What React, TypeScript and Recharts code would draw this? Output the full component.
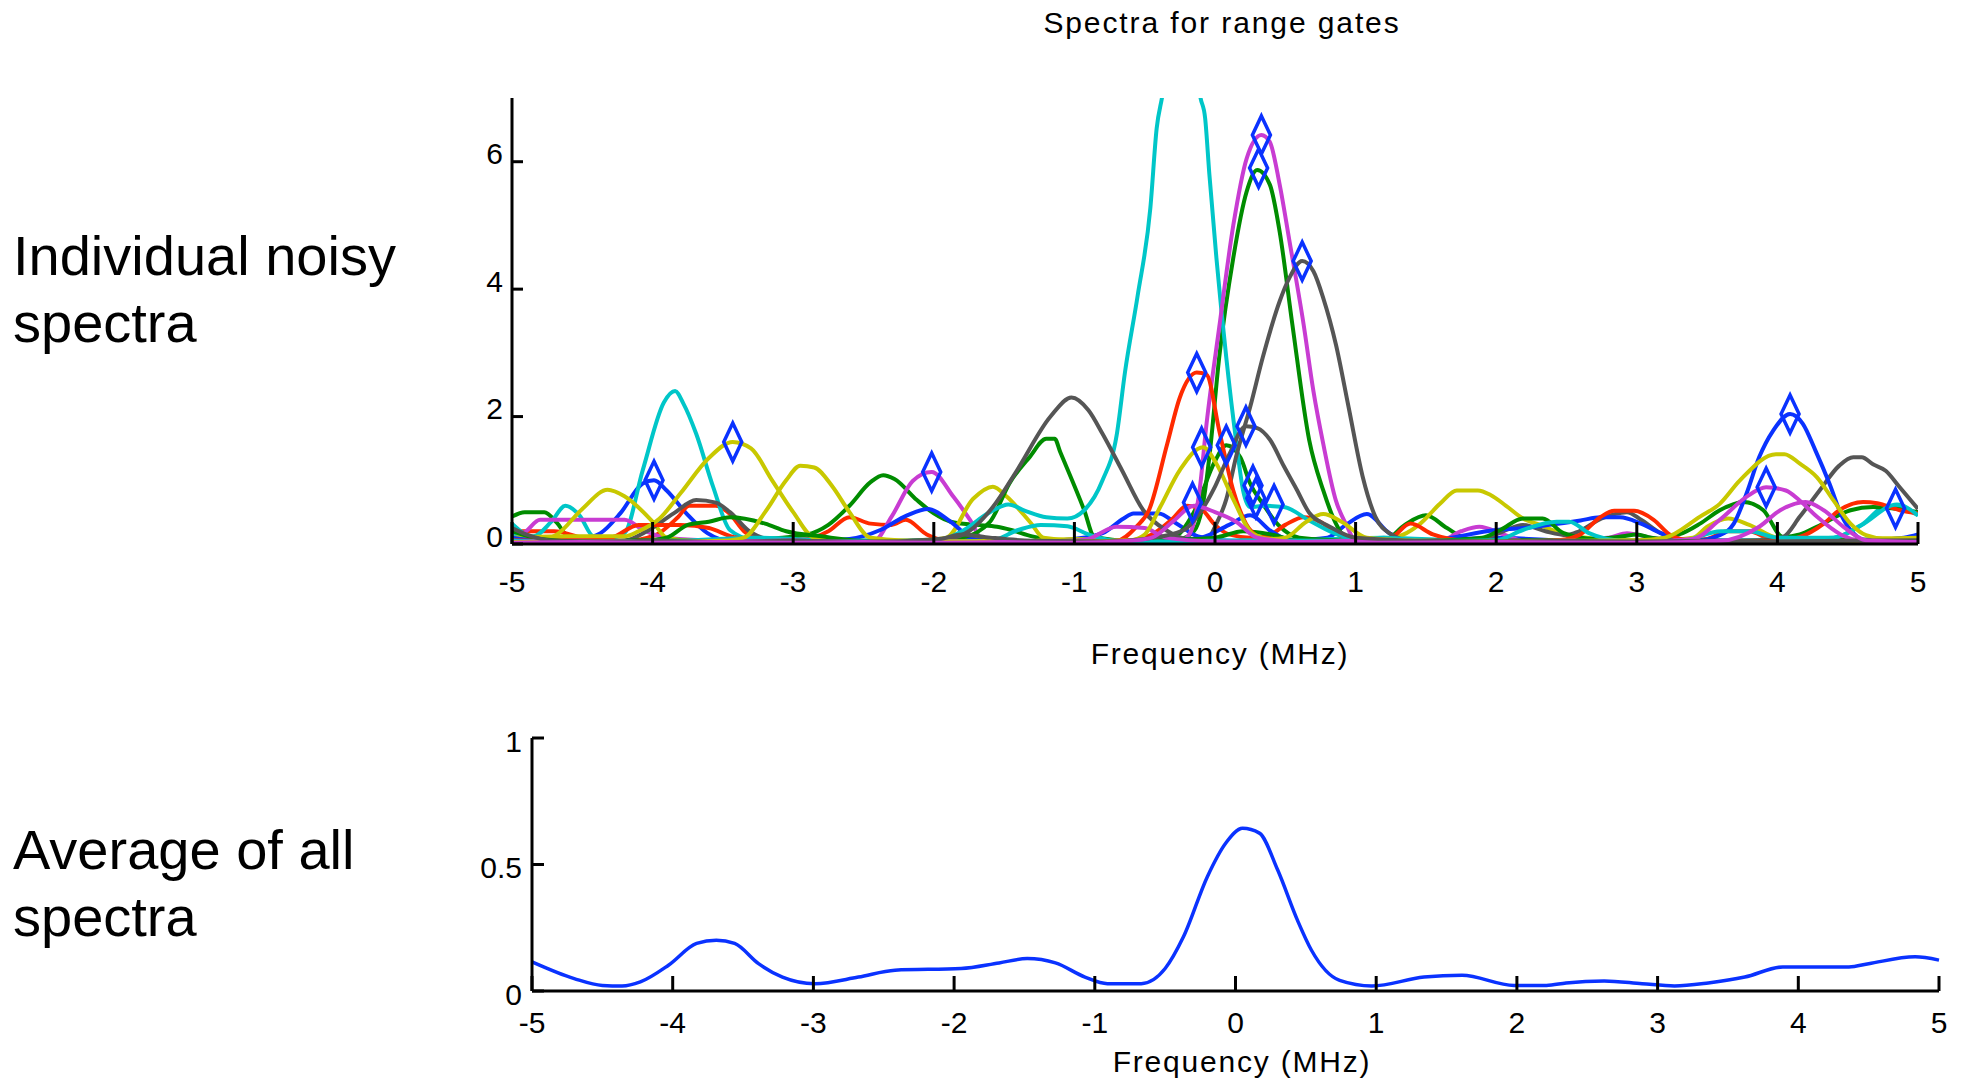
import React from 'react';
import { ComposedChart, Line, Scatter, XAxis, YAxis } from 'recharts';

type P = [number, number];

// ---------- axes / labels ----------
const freqTicks = [-5, -4, -3, -2, -1, 0, 1, 2, 3, 4, 5];
const gatePowerTicks = [0, 2, 4, 6];
const avgPowerTicks = [0, 0.5, 1];
const titleText = 'Spectra for range gates';
const xLabelText = 'Frequency (MHz)';
const topSideText = ['Individual noisy', 'spectra'];
const bottomSideText = ['Average of all', 'spectra'];

// ---------- individual range-gate spectra: [frequency MHz, power] ----------
const gateB1: P[] = [[-5,0.08],[-4.8,0.04],[-4.6,0.05],[-4.45,0.1],[-4.37,0.17],[-4.23,0.48],[-4.07,0.95],[-3.99,1.0],[-3.9,0.84],[-3.76,0.48],[-3.61,0.17],[-3.45,0.05],[-3.0,0.04],[-2.5,0.03],[-2.0,0.05],[-1.5,0.03],[-1.0,0.05],[-0.5,0.03],[0.0,0.02],[0.5,0.05],[0.8,0.1],[0.93,0.3],[1.08,0.47],[1.24,0.17],[1.4,0.05],[2.0,0.1],[2.5,0.05],[3.0,0.04],[3.5,0.05],[4.0,0.03],[4.5,0.05],[5,0.1]];
const gateG1: P[] = [[-5,0.43],[-4.91,0.5],[-4.77,0.5],[-4.68,0.33],[-4.6,0.12],[-4.4,0.05],[-4.2,0.03],[-3.6,0.05],[-3.2,0.08],[-2.9,0.15],[-2.75,0.3],[-2.6,0.6],[-2.45,0.97],[-2.36,1.08],[-2.28,1.02],[-2.12,0.69],[-2.0,0.48],[-1.88,0.35],[-1.7,0.3],[-1.55,0.27],[-1.45,0.22],[-1.3,0.12],[-1.1,0.05],[-0.6,0.03],[-0.25,0.08],[-0.15,0.2],[-0.08,0.7],[-0.04,1.37],[0.03,2.93],[0.13,4.49],[0.225,5.53],[0.3,5.87],[0.39,5.64],[0.46,4.9],[0.55,3.45],[0.67,1.63],[0.77,0.84],[0.86,0.32],[0.95,0.06],[1.2,0.05],[1.35,0.3],[1.5,0.45],[1.65,0.25],[1.8,0.08],[2.5,0.05],[3.2,0.04],[4.0,0.05],[5,0.08]];
const gateR1: P[] = [[-5,0.2],[-4.7,0.2],[-4.5,0.1],[-4.2,0.05],[-3.98,0.14],[-3.82,0.42],[-3.74,0.6],[-3.55,0.6],[-3.45,0.47],[-3.35,0.2],[-3.2,0.05],[-2.9,0.08],[-2.75,0.2],[-2.6,0.42],[-2.45,0.32],[-2.3,0.3],[-2.2,0.38],[-2.05,0.15],[-1.9,0.05],[-1.2,0.03],[-0.8,0.04],[-0.4,0.02],[0.5,0.03],[1.0,0.02],[2.0,0.04],[3.0,0.03],[3.5,0.08],[3.64,0.2],[3.8,0.2],[3.95,0.08],[4.5,0.03],[5,0.05]];
const gateC1: P[] = [[-5,0.32],[-4.85,0.12],[-4.72,0.35],[-4.62,0.6],[-4.52,0.45],[-4.42,0.12],[-4.3,0.1],[-4.2,0.17],[-4.07,1.16],[-3.92,2.22],[-3.84,2.4],[-3.78,2.2],[-3.69,1.73],[-3.57,0.9],[-3.45,0.22],[-3.3,0.08],[-2.8,0.05],[-2.2,0.04],[-1.5,0.05],[-1.0,0.03],[-0.5,0.05],[0.0,0.04],[0.6,0.06],[1.2,0.1],[1.8,0.05],[2.5,0.04],[3.2,0.05],[3.8,0.06],[4.4,0.1],[4.6,0.3],[4.78,0.6],[4.9,0.55],[5,0.45]];
const gateM1: P[] = [[-5,0.05],[-4.9,0.2],[-4.8,0.38],[-4.5,0.38],[-4.2,0.38],[-4.05,0.2],[-3.9,0.1],[-3.5,0.05],[-3.0,0.04],[-2.6,0.05],[-2.43,0.04],[-2.3,0.43],[-2.15,0.99],[-2.015,1.13],[-1.86,0.74],[-1.74,0.37],[-1.65,0.06],[-1.2,0.03],[-0.6,0.02],[0.2,0.03],[1.0,0.04],[1.6,0.05],[1.75,0.2],[1.88,0.27],[2.05,0.15],[2.2,0.05],[2.8,0.1],[2.93,0.17],[3.1,0.1],[3.5,0.03],[4.5,0.04],[5,0.03]];
const gateY1: P[] = [[-5,0.05],[-4.8,0.06],[-4.68,0.15],[-4.5,0.55],[-4.32,0.85],[-4.2,0.75],[-4.0,0.35],[-3.9,0.1],[-3.7,0.05],[-3.0,0.04],[-2.4,0.05],[-2.1,0.06],[-1.91,0.1],[-1.72,0.71],[-1.58,0.9],[-1.48,0.74],[-1.31,0.33],[-1.22,0.1],[-0.9,0.05],[-0.3,0.04],[0.5,0.05],[1.0,0.06],[1.3,0.12],[1.45,0.3],[1.6,0.63],[1.72,0.84],[1.87,0.84],[1.96,0.77],[2.07,0.6],[2.19,0.4],[2.31,0.3],[2.5,0.14],[2.64,0.1],[3.0,0.05],[3.5,0.04],[4.5,0.05],[5,0.04]];
const gateK1: P[] = [[-5,0.12],[-4.8,0.05],[-4.5,0.02],[-4.2,0.05],[-4.04,0.2],[-3.85,0.48],[-3.69,0.69],[-3.55,0.65],[-3.45,0.5],[-3.3,0.18],[-3.1,0.05],[-2.5,0.04],[-2.1,0.06],[-1.8,0.1],[-1.6,0.05],[-1.0,0.03],[0.0,0.04],[1.0,0.05],[1.5,0.04],[1.9,0.08],[2.05,0.2],[2.19,0.3],[2.35,0.2],[2.5,0.14],[2.59,0.2],[2.75,0.4],[2.93,0.5],[3.03,0.38],[3.17,0.17],[3.4,0.05],[4.0,0.04],[4.5,0.05],[5,0.06]];
const gateB2: P[] = [[-5,0.03],[-4.5,0.05],[-4.0,0.03],[-3.5,0.06],[-3.0,0.04],[-2.6,0.08],[-2.38,0.22],[-2.19,0.45],[-2.04,0.55],[-1.88,0.35],[-1.7,0.06],[-1.3,0.04],[-1.0,0.08],[-0.8,0.17],[-0.65,0.4],[-0.58,0.48],[-0.4,0.48],[-0.28,0.33],[-0.12,0.12],[0.1,0.05],[0.5,0.03],[1.0,0.04],[1.5,0.05],[2.0,0.22],[2.2,0.25],[2.38,0.3],[2.6,0.37],[2.74,0.42],[2.88,0.42],[3.03,0.32],[3.17,0.17],[3.4,0.05],[4.0,0.04],[4.6,0.05],[5,0.08]];
const gateG2: P[] = [[-5,0.05],[-4.5,0.04],[-4.0,0.06],[-3.5,0.04],[-3.0,0.05],[-2.5,0.04],[-2.0,0.06],[-1.8,0.1],[-1.6,0.35],[-1.46,0.96],[-1.32,1.36],[-1.2,1.65],[-1.14,1.65],[-1.1,1.44],[-0.93,0.53],[-0.86,0.12],[-0.6,0.05],[-0.3,0.1],[-0.15,0.5],[0.0,1.3],[0.08,1.55],[0.18,1.36],[0.25,0.95],[0.34,0.63],[0.45,0.3],[0.6,0.1],[1.0,0.05],[1.5,0.04],[2.0,0.05],[2.6,0.06],[3.0,0.05],[3.3,0.15],[3.45,0.32],[3.59,0.53],[3.76,0.66],[3.9,0.53],[4.04,0.11],[4.16,0.15],[4.28,0.27],[4.52,0.53],[4.68,0.58],[4.85,0.55],[5,0.5]];
const gateR2: P[] = [[-5,0.1],[-4.6,0.08],[-4.3,0.1],[-4.1,0.3],[-3.8,0.3],[-3.6,0.25],[-3.4,0.1],[-3.0,0.05],[-2.5,0.04],[-2.0,0.03],[-1.5,0.05],[-1.0,0.04],[-0.6,0.06],[-0.45,0.15],[-0.3,0.4],[-0.2,0.6],[-0.1,0.55],[0.0,0.3],[0.1,0.15],[0.25,0.1],[0.37,0.12],[0.5,0.3],[0.63,0.42],[0.75,0.35],[0.86,0.17],[1.0,0.05],[1.25,0.1],[1.39,0.32],[1.55,0.15],[1.8,0.05],[2.5,0.04],[3.0,0.05],[3.5,0.04],[4.0,0.06],[4.5,0.04],[5,0.05]];
const gateC2: P[] = [[-5,0.15],[-4.7,0.05],[-4.3,0.04],[-3.8,0.05],[-3.3,0.1],[-3.0,0.08],[-2.5,0.05],[-2.0,0.05],[-1.8,0.2],[-1.6,0.5],[-1.47,0.62],[-1.35,0.52],[-1.2,0.42],[-1.05,0.4],[-0.93,0.53],[-0.8,1.0],[-0.7,1.7],[-0.64,2.7],[-0.55,3.9],[-0.46,5.27],[-0.415,6.52],[-0.37,7.1],[-0.3,8.5],[-0.22,8.9],[-0.15,8.2],[-0.11,7.1],[-0.07,6.68],[-0.04,5.8],[0.01,4.49],[0.08,2.93],[0.15,1.62],[0.2,0.84],[0.25,0.58],[0.35,0.6],[0.49,0.58],[0.67,0.37],[0.86,0.16],[1.0,0.08],[1.5,0.05],[2.0,0.04],[2.5,0.05],[3.0,0.04],[3.5,0.06],[4.0,0.05],[4.5,0.04],[5,0.1]];
const gateM2: P[] = [[-5,0.02],[-4.5,0.04],[-4.0,0.02],[-3.5,0.05],[-3.0,0.03],[-2.5,0.04],[-2.0,0.02],[-1.5,0.04],[-1.0,0.03],[-0.5,0.04],[-0.25,0.05],[-0.18,0.16],[-0.11,0.84],[-0.06,1.89],[0.03,3.4],[0.13,5.0],[0.225,6.05],[0.33,6.42],[0.39,6.31],[0.46,5.64],[0.53,4.75],[0.63,3.45],[0.7,2.4],[0.77,1.57],[0.86,0.68],[0.93,0.32],[1.0,0.06],[1.5,0.04],[2.0,0.03],[2.5,0.04],[3.0,0.03],[3.5,0.05],[4.0,0.03],[4.5,0.04],[5,0.03]];
const gateY2: P[] = [[-5,0.1],[-4.6,0.12],[-4.2,0.12],[-4.1,0.2],[-3.95,0.4],[-3.8,0.8],[-3.6,1.35],[-3.43,1.6],[-3.3,1.5],[-3.15,1.0],[-3.0,0.5],[-2.85,0.1],[-2.5,0.04],[-2.0,0.05],[-1.5,0.03],[-1.0,0.08],[-0.7,0.05],[0.0,0.04],[0.5,0.03],[1.0,0.04],[1.5,0.05],[2.0,0.04],[2.5,0.05],[3.0,0.04],[3.4,0.1],[3.5,0.27],[3.65,0.4],[3.8,0.3],[4.0,0.1],[4.5,0.05],[5,0.04]];
const gateK2: P[] = [[-5,0.05],[-4.5,0.04],[-4.0,0.03],[-3.5,0.04],[-3.0,0.05],[-2.5,0.04],[-2.1,0.05],[-1.9,0.08],[-1.75,0.2],[-1.58,0.58],[-1.41,1.15],[-1.17,2.0],[-1.02,2.3],[-0.9,2.1],[-0.8,1.73],[-0.66,1.15],[-0.51,0.53],[-0.35,0.22],[-0.2,0.08],[-0.05,0.1],[0.01,0.32],[0.08,0.7],[0.15,1.37],[0.25,2.15],[0.34,2.93],[0.46,3.81],[0.53,4.18],[0.62,4.44],[0.7,4.28],[0.77,3.86],[0.86,3.13],[0.95,2.15],[1.05,1.06],[1.14,0.43],[1.24,0.17],[1.4,0.05],[2.0,0.04],[2.5,0.05],[3.0,0.04],[3.5,0.05],[3.9,0.06],[4.04,0.11],[4.16,0.43],[4.3,0.84],[4.44,1.23],[4.54,1.36],[4.6,1.36],[4.68,1.25],[4.77,1.15],[4.87,0.89],[5,0.55]];
const gateB3: P[] = [[-5,0.1],[-4.8,0.05],[-4.5,0.03],[-4.0,0.04],[-3.5,0.03],[-3.0,0.05],[-2.5,0.03],[-2.0,0.04],[-1.5,0.03],[-1.0,0.05],[-0.5,0.03],[-0.1,0.1],[0.1,0.3],[0.25,0.45],[0.4,0.2],[0.55,0.05],[1.0,0.04],[1.5,0.03],[2.0,0.05],[2.5,0.04],[3.0,0.05],[3.4,0.05],[3.59,0.14],[3.69,0.32],[3.78,0.79],[3.87,1.36],[3.97,1.78],[4.09,2.04],[4.18,1.89],[4.27,1.47],[4.37,0.95],[4.46,0.43],[4.54,0.17],[4.63,0.06],[4.9,0.1],[5,0.15]];
const gateG3: P[] = [[-5,0.2],[-4.8,0.08],[-4.5,0.04],[-4.1,0.05],[-3.9,0.1],[-3.75,0.3],[-3.6,0.35],[-3.45,0.42],[-3.2,0.32],[-3.05,0.2],[-2.8,0.12],[-2.5,0.05],[-2.0,0.04],[-1.5,0.05],[-1.0,0.03],[-0.5,0.05],[0.0,0.1],[0.2,0.2],[0.4,0.15],[0.6,0.05],[1.0,0.04],[1.5,0.05],[1.9,0.1],[2.03,0.22],[2.19,0.4],[2.33,0.4],[2.48,0.17],[2.7,0.08],[2.9,0.12],[3.0,0.15],[3.1,0.1],[3.4,0.05],[4.0,0.04],[4.5,0.06],[5,0.08]];
const gateR3: P[] = [[-5,0.06],[-4.5,0.04],[-4.0,0.05],[-3.5,0.04],[-3.0,0.05],[-2.5,0.03],[-2.0,0.05],[-1.5,0.04],[-1.0,0.03],[-0.7,0.05],[-0.56,0.27],[-0.47,0.53],[-0.34,1.57],[-0.25,2.3],[-0.13,2.69],[-0.06,2.66],[0.03,1.78],[0.13,0.84],[0.22,0.32],[0.31,0.11],[0.4,0.05],[1.0,0.04],[1.5,0.05],[2.0,0.04],[2.4,0.05],[2.59,0.14],[2.74,0.42],[2.84,0.52],[2.98,0.52],[3.12,0.38],[3.24,0.14],[3.4,0.05],[3.8,0.04],[4.0,0.05],[4.16,0.11],[4.33,0.32],[4.44,0.53],[4.61,0.66],[4.71,0.64],[4.87,0.53],[5,0.48]];
const gateC3: P[] = [[-5,0.05],[-4.5,0.03],[-4.0,0.05],[-3.5,0.04],[-3.0,0.03],[-2.5,0.05],[-2.0,0.04],[-1.6,0.05],[-1.4,0.22],[-1.24,0.3],[-1.05,0.28],[-0.9,0.15],[-0.7,0.05],[-0.3,0.04],[0.2,0.06],[0.8,0.05],[1.2,0.1],[1.6,0.05],[2.0,0.06],[2.19,0.22],[2.43,0.35],[2.52,0.35],[2.66,0.17],[2.9,0.05],[3.3,0.04],[3.6,0.2],[3.8,0.2],[4.0,0.1],[4.4,0.1],[4.6,0.3],[4.85,0.62],[5,0.45]];
const gateM3: P[] = [[-5,0.03],[-4.5,0.05],[-4.0,0.03],[-3.5,0.04],[-3.0,0.05],[-2.5,0.03],[-2.0,0.04],[-1.5,0.03],[-1.0,0.05],[-0.9,0.08],[-0.7,0.27],[-0.5,0.25],[-0.35,0.1],[0.0,0.04],[0.5,0.03],[1.0,0.05],[1.5,0.04],[2.0,0.03],[2.5,0.05],[3.0,0.04],[3.4,0.08],[3.59,0.38],[3.78,0.74],[3.92,0.89],[4.06,0.84],[4.16,0.68],[4.28,0.43],[4.45,0.15],[4.6,0.05],[5,0.04]];
const gateY3: P[] = [[-5,0.03],[-4.5,0.04],[-4.0,0.03],[-3.5,0.05],[-3.35,0.1],[-3.2,0.5],[-3.05,1.0],[-2.95,1.23],[-2.85,1.2],[-2.72,0.9],[-2.6,0.5],[-2.45,0.1],[-2.0,0.04],[-1.5,0.05],[-1.0,0.04],[-0.6,0.06],[-0.5,0.15],[-0.39,0.58],[-0.25,1.16],[-0.085,1.52],[0.01,1.26],[0.13,0.7],[0.27,0.16],[0.4,0.08],[0.5,0.1],[0.65,0.35],[0.77,0.47],[0.9,0.35],[1.08,0.1],[1.5,0.05],[2.0,0.04],[2.5,0.05],[3.0,0.06],[3.2,0.1],[3.45,0.43],[3.59,0.63],[3.73,0.99],[3.99,1.41],[4.05,1.41],[4.16,1.26],[4.28,1.05],[4.4,0.68],[4.52,0.32],[4.63,0.14],[4.75,0.09],[5,0.1]];
const gateK3: P[] = [[-5,0.25],[-4.9,0.15],[-4.7,0.05],[-4.3,0.04],[-4.0,0.05],[-3.5,0.03],[-3.0,0.05],[-2.5,0.04],[-2.0,0.06],[-1.8,0.15],[-1.6,0.1],[-1.3,0.05],[-0.8,0.04],[-0.5,0.08],[-0.22,0.22],[-0.11,0.48],[0.0,0.9],[0.1,1.4],[0.22,1.85],[0.3,1.82],[0.39,1.64],[0.49,1.22],[0.58,0.86],[0.67,0.49],[0.81,0.28],[1.0,0.1],[1.5,0.05],[2.0,0.04],[2.5,0.05],[3.0,0.04],[3.5,0.05],[4.0,0.04],[4.5,0.05],[5,0.06]];
const gateM4: P[] = [[-5,0.02],[-4.5,0.03],[-4.0,0.02],[-3.5,0.03],[-3.0,0.02],[-2.5,0.03],[-2.0,0.02],[-1.5,0.03],[-1.0,0.02],[-0.6,0.05],[-0.45,0.1],[-0.3,0.35],[-0.15,0.6],[0.0,0.5],[0.15,0.35],[0.3,0.1],[0.6,0.03],[1.0,0.02],[2.0,0.03],[3.0,0.02],[3.6,0.05],[3.87,0.27],[4.02,0.53],[4.2,0.66],[4.33,0.53],[4.47,0.27],[4.63,0.06],[5,0.03]];

// peak markers (diamonds)
const peakMarks: P[] = [[-3.99,1.0],[-3.43,1.6],[-2.015,1.13],[-0.13,2.69],[-0.095,1.52],[0.08,1.55],[0.22,1.85],[0.33,6.42],[0.31,5.9],[0.62,4.44],[-0.16,0.65],[0.27,0.92],[0.29,0.72],[0.42,0.62],[3.92,0.89],[4.09,2.04],[4.84,0.56]];

// ---------- average of all spectra ----------
const avgSpectrum: P[] = [[-5,0.115],[-4.7,0.049],[-4.5,0.022],[-4.36,0.02],[-4.23,0.036],[-4.03,0.102],[-3.83,0.188],[-3.69,0.201],[-3.56,0.188],[-3.39,0.108],[-3.22,0.055],[-2.99,0.029],[-2.68,0.055],[-2.42,0.082],[-1.95,0.089],[-1.68,0.111],[-1.48,0.128],[-1.28,0.111],[-1.07,0.055],[-0.91,0.029],[-0.67,0.029],[-0.5,0.089],[-0.37,0.214],[-0.2,0.452],[-0.07,0.584],[0.05,0.643],[0.17,0.624],[0.3,0.478],[0.44,0.28],[0.54,0.161],[0.74,0.042],[0.97,0.02],[1.34,0.055],[1.61,0.062],[1.98,0.022],[2.21,0.022],[2.35,0.032],[2.62,0.04],[2.89,0.029],[3.12,0.02],[3.36,0.032],[3.62,0.055],[3.89,0.095],[4.36,0.095],[4.5,0.108],[4.83,0.135],[5,0.122]];

// ---------- styling ----------
const FONT = '"Liberation Sans", Arial, Helvetica, sans-serif';
const BLUE = '#0A32FF';
const GREEN = '#008C00';
const RED = '#FF2A00';
const CYAN = '#00C6C8';
const MAGENTA = '#C83CD2';
const YELLOW = '#C8C800';
const GRAY = '#555555';

const gates: { name: string; color: string; pts: P[] }[] = [
  { name: 'g1', color: BLUE, pts: gateB1 },
  { name: 'g2', color: GREEN, pts: gateG1 },
  { name: 'g3', color: RED, pts: gateR1 },
  { name: 'g4', color: CYAN, pts: gateC1 },
  { name: 'g5', color: MAGENTA, pts: gateM1 },
  { name: 'g6', color: YELLOW, pts: gateY1 },
  { name: 'g7', color: GRAY, pts: gateK1 },
  { name: 'g8', color: BLUE, pts: gateB2 },
  { name: 'g9', color: GREEN, pts: gateG2 },
  { name: 'g10', color: RED, pts: gateR2 },
  { name: 'g11', color: CYAN, pts: gateC2 },
  { name: 'g12', color: MAGENTA, pts: gateM2 },
  { name: 'g13', color: YELLOW, pts: gateY2 },
  { name: 'g14', color: GRAY, pts: gateK2 },
  { name: 'g15', color: BLUE, pts: gateB3 },
  { name: 'g16', color: GREEN, pts: gateG3 },
  { name: 'g17', color: RED, pts: gateR3 },
  { name: 'g18', color: CYAN, pts: gateC3 },
  { name: 'g19', color: MAGENTA, pts: gateM3 },
  { name: 'g20', color: YELLOW, pts: gateY3 },
  { name: 'g21', color: GRAY, pts: gateK3 },
  { name: 'g22', color: MAGENTA, pts: gateM4 },
];

const toRows = (pts: P[]) => pts.map(([f, v]) => ({ f, v }));

const Diamond = (props: any) => {
  const { cx, cy } = props;
  if (cx == null || cy == null) return null;
  return (
    <path
      d={`M${cx},${cy - 19}L${cx + 9},${cy}L${cx},${cy + 19}L${cx - 9},${cy}Z`}
      fill="none"
      stroke={BLUE}
      strokeWidth={3.5}
      strokeLinejoin="miter"
    />
  );
};

const TICK_FONT = 30;
const tickStyle = { fontSize: TICK_FONT, fill: '#000', fontFamily: FONT };
const axisStroke = { stroke: '#000', strokeWidth: 3 };

const makeYTick = (offset: number) => (props: any) => {
  const { x, y, payload } = props;
  return (
    <text x={x} y={y + offset} dy="0.355em" textAnchor="end" fontSize={TICK_FONT} fontFamily={FONT} fill="#000">
      {String(payload.value)}
    </text>
  );
};
const TopYTick = makeYTick(-8);
const BottomYTick = makeYTick(3);

export default function App() {
  return (
    <div style={{ position: 'absolute', left: 0, top: 0, width: 1967, height: 1080, background: '#fff', overflow: 'hidden' }}>
      <div style={{ position: 'absolute', left: 0, top: 0 }}>
        <ComposedChart width={1967} height={620} margin={{ top: 98, right: 49, bottom: 0, left: 0 }}>
          <XAxis
            type="number"
            dataKey="f"
            domain={[-5, 5]}
            ticks={freqTicks}
            interval={0}
            allowDataOverflow
            height={76}
            tickSize={-22}
            tickMargin={49}
            axisLine={axisStroke}
            tickLine={axisStroke}
            tick={tickStyle}
          />
          <YAxis
            type="number"
            domain={[0, 7]}
            ticks={gatePowerTicks}
            interval={0}
            allowDataOverflow
            width={512}
            tickSize={-11}
            tickMargin={20}
            axisLine={axisStroke}
            tickLine={axisStroke}
            tick={TopYTick}
          />
          {gates.map((g) => (
            <Line
              key={g.name}
              data={toRows(g.pts)}
              dataKey="v"
              type="monotone"
              stroke={g.color}
              strokeWidth={4}
              dot={false}
              activeDot={false}
              isAnimationActive={false}
            />
          ))}
          <Scatter data={toRows(peakMarks)} dataKey="v" shape={Diamond} isAnimationActive={false} />
        </ComposedChart>
      </div>
      <div style={{ position: 'absolute', left: 0, top: 640 }}>
        <ComposedChart width={1967} height={440} margin={{ top: 98, right: 28, bottom: 0, left: 0 }}>
          <XAxis
            type="number"
            dataKey="f"
            domain={[-5, 5]}
            ticks={freqTicks}
            interval={0}
            height={89}
            tickSize={-15}
            tickMargin={36}
            axisLine={axisStroke}
            tickLine={axisStroke}
            tick={tickStyle}
          />
          <YAxis
            type="number"
            domain={[0, 1]}
            ticks={avgPowerTicks}
            interval={0}
            width={532}
            tickSize={-12}
            tickMargin={22}
            axisLine={axisStroke}
            tickLine={axisStroke}
            tick={BottomYTick}
          />
          <Line
            data={toRows(avgSpectrum)}
            dataKey="v"
            type="monotone"
            stroke={BLUE}
            strokeWidth={3.5}
            dot={false}
            activeDot={false}
            isAnimationActive={false}
          />
        </ComposedChart>
      </div>
      <svg width={1967} height={1080} style={{ position: 'absolute', left: 0, top: 0, pointerEvents: 'none' }}>
        <g fontFamily={FONT} fill="#000">
          <text x={1222} y={33} fontSize={30} textAnchor="middle" letterSpacing={1.9}>{titleText}</text>
          <text x={1220} y={664} fontSize={30} textAnchor="middle" letterSpacing={1.8}>{xLabelText}</text>
          <text x={1242} y={1072} fontSize={30} textAnchor="middle" letterSpacing={1.8}>{xLabelText}</text>
          <text x={13} y={275} fontSize={56}>{topSideText[0]}</text>
          <text x={13} y={342} fontSize={56}>{topSideText[1]}</text>
          <text x={13} y={869} fontSize={56}>{bottomSideText[0]}</text>
          <text x={13} y={936} fontSize={56}>{bottomSideText[1]}</text>
        </g>
      </svg>
    </div>
  );
}
